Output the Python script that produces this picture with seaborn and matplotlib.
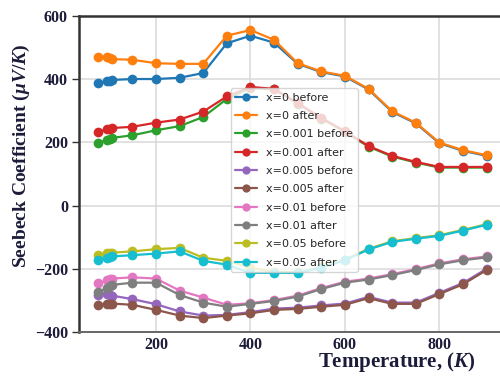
import seaborn as sns
import matplotlib.pyplot as plt
import numpy as np
import pandas as pd

# Temperatures (K)
temps = [78, 97, 102, 107, 150, 200, 250, 300, 350, 400, 450, 500, 550, 600, 650, 700, 750, 800, 850, 900]

# Seebeck coefficient (uV/K)
x0_before = [389, 393, 395, 397, 400, 400, 404, 419, 513, 537, 515, 448, 422, 408, 367, 296, 260, 197, 173, 157]
x0_after = [471, 470, 466, 463, 461, 450, 448, 448, 537, 555, 524, 450, 424, 410, 369, 298, 262, 199, 175, 159]
x001_before = [199, 207, 211, 214, 222, 238, 251, 280, 337, 372, 367, 322, 275, 233, 186, 155, 136, 120, 120, 120]
x001_after = [233, 241, 242, 245, 249, 262, 272, 297, 345, 375, 369, 324, 277, 235, 188, 157, 138, 122, 122, 122]
x005_before = [-283, -280, -283, -285, -296, -312, -335, -348, -346, -337, -326, -323, -316, -310, -289, -307, -307, -276, -245, -200]
x005_after = [-316, -312, -310, -310, -314, -330, -348, -356, -348, -341, -330, -327, -320, -314, -293, -311, -311, -280, -249, -204]
x01_before = [-246, -236, -231, -231, -227, -231, -269, -291, -314, -309, -299, -285, -261, -241, -231, -217, -201, -183, -170, -161]
x01_after = [-272, -262, -253, -251, -244, -244, -283, -307, -320, -311, -302, -288, -264, -244, -234, -220, -204, -186, -173, -164]
x05_before = [-155, -149, -149, -149, -145, -138, -134, -165, -175, -197, -210, -211, -195, -171, -137, -113, -103, -94, -77, -59]
x05_after = [-171, -165, -163, -161, -157, -152, -145, -175, -187, -213, -213, -213, -197, -173, -139, -115, -105, -96, -79, -61]

labels = ["x=0 before", "x=0 after", "x=0.001 before", "x=0.001 after",
          "x=0.005 before", "x=0.005 after", "x=0.01 before", "x=0.01 after",
          "x=0.05 before", "x=0.05 after"]
series = [x0_before, x0_after, x001_before, x001_after, x005_before,
          x005_after, x01_before, x01_after, x05_before, x05_after]

df = pd.concat([pd.DataFrame({"T": temps, "S": s, "sample": lab})
                for lab, s in zip(labels, series)], ignore_index=True)

sns.set_style("whitegrid")
plt.rcParams['mathtext.fontset'] = 'custom'
plt.rcParams['mathtext.rm'] = 'Liberation Serif:bold'
plt.rcParams['mathtext.it'] = 'Liberation Serif:italic:bold'

navy = "#1c1c3a"
fig = plt.figure(figsize=(5, 3.76), dpi=100)
ax = fig.add_axes([0.158, 0.117, 0.854, 0.841])

palette = sns.color_palette("tab10", 10)
sns.lineplot(data=df, x="T", y="S", hue="sample", hue_order=labels, palette=palette,
             marker="o", markersize=7, markeredgewidth=0, linewidth=1.6, ax=ax)

ax.set_xlim(37, 941)
ax.set_ylim(-400, 600)
ax.set_xticks([200, 400, 600, 800])
ax.set_yticks([-400, -200, 0, 200, 400, 600])
ax.grid(True, color="#d9d9d9", linewidth=1.1)

for side in ["left", "top"]:
    ax.spines[side].set_color("#333333")
    ax.spines[side].set_linewidth(1.8)
ax.spines["bottom"].set_color("#666666")
ax.spines["bottom"].set_linewidth(1.4)
ax.spines["right"].set_visible(False)

ax.tick_params(axis="y", left=True, length=5, width=1, color="#333333", pad=3)
ax.tick_params(axis="x", bottom=False, pad=0)
for t in ax.get_xticklabels() + ax.get_yticklabels():
    t.set_fontfamily("Liberation Serif")
    t.set_fontweight("bold")
    t.set_fontsize(11.5)
    t.set_color(navy)

ax.set_xlabel(r"Temperature, $\mathit{(K)}$", fontsize=15, fontweight="bold",
              fontfamily="Liberation Serif", color=navy)
ax.xaxis.set_label_coords(0.745, -0.058)
ax.set_ylabel(r"Seebeck Coefficient $\mathit{(μV/K)}$", fontsize=14, fontweight="bold",
              fontfamily="Liberation Serif", color=navy)
ax.yaxis.set_label_coords(-0.11, 0.557)

ax.legend(loc="upper left", bbox_to_anchor=(0.342, 0.789), fontsize=8,
          frameon=True, framealpha=0.8, handlelength=2.0, labelspacing=0.75,
          borderpad=0.4, handletextpad=0.8, markerscale=0.85)

plt.savefig("out.png", dpi=100)
